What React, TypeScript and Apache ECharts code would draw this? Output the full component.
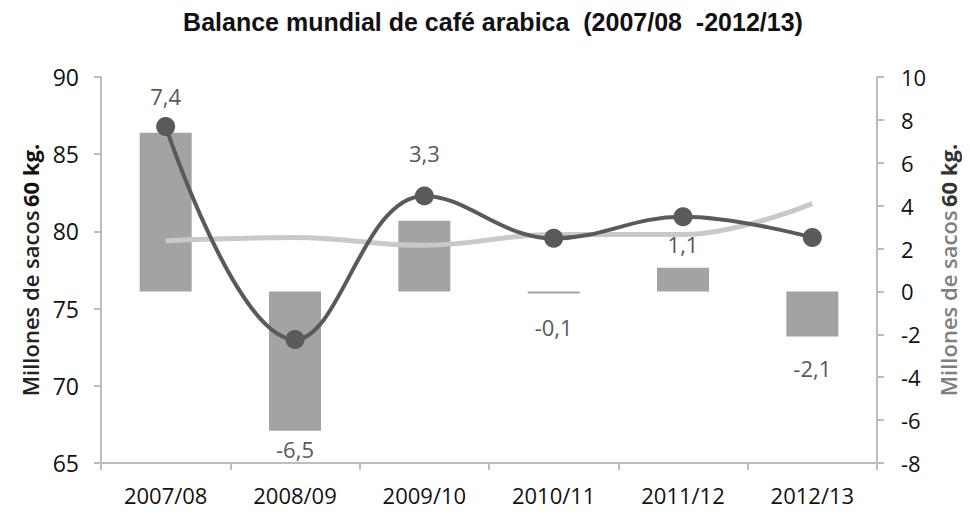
import React, { useEffect, useRef } from "react";
import * as echarts from "echarts";

const categories = ["2007/08", "2008/09", "2009/10", "2010/11", "2011/12", "2012/13"];
const balance = [7.4, -6.5, 3.3, -0.1, 1.1, -2.1];
const darkLine = [86.8, 73.0, 82.3, 79.55, 80.95, 79.6];
const lightLine = [79.4, 79.6, 79.1, 79.8, 79.8, 81.8];
const leftTicks = { min: 65, max: 90, interval: 5 };
const rightTicks = { min: -8, max: 10, interval: 2 };

// label distances (layout only)
const labelDistance = [26, 7, 57, 22, 13, 21];

const FONT = "'Open Sans', 'Noto Sans', sans-serif";

export default function App() {
  const ref = useRef<HTMLDivElement>(null);
  useEffect(() => {
    if (!ref.current) return;
    const chart = echarts.init(ref.current, null, { renderer: "svg" });
    const axisLine = { show: true, onZero: false, lineStyle: { color: "#bdbdbd", width: 2 } };
    const axisTick = { show: true, inside: false, length: 7, lineStyle: { color: "#bdbdbd", width: 2 } };
    chart.setOption({
      animation: false,
      title: {
        text: "Balance mundial de café arabica  (2007/08  -2012/13)",
        left: "center",
        top: 1,
        padding: 0,
        textStyle: { fontFamily: "'Liberation Sans', Arial, sans-serif", fontWeight: "bold", fontSize: 25, color: "#111" },
      },
      grid: { left: 93, right: 101, top: 69, bottom: 60 },
      xAxis: {
        type: "category",
        data: categories,
        boundaryGap: true,
        axisLine,
        axisTick: { ...axisTick, alignWithLabel: false },
        axisLabel: { color: "#111", fontSize: 22, fontFamily: FONT, margin: 21 },
        splitLine: { show: false },
      },
      yAxis: [
        {
          type: "value",
          min: leftTicks.min,
          max: leftTicks.max,
          interval: leftTicks.interval,
          position: "left",
          axisLine,
          axisTick,
          splitLine: { show: false },
          axisLabel: { color: "#111", fontSize: 23, fontFamily: FONT, margin: 22 },
          name: "{a|Millones de sacos} {b|60 kg.}",
          nameLocation: "middle",
          nameGap: 60,
          nameRotate: 90,
          nameTextStyle: {
            rich: {
              a: { fontSize: 22, fontFamily: FONT, color: "#222", fontWeight: 600 },
              b: { fontSize: 22, fontFamily: FONT, color: "#111", fontWeight: "bold" },
            },
          },
        },
        {
          type: "value",
          min: rightTicks.min,
          max: rightTicks.max,
          interval: rightTicks.interval,
          position: "right",
          axisLine,
          axisTick,
          splitLine: { show: false },
          axisLabel: { color: "#111", fontSize: 22, fontFamily: FONT, margin: 24 },
          name: "{a|Millones de sacos} {b|60 kg.}",
          nameLocation: "middle",
          nameGap: 53,
          nameRotate: 90,
          nameTextStyle: {
            rich: {
              a: { fontSize: 22, fontFamily: FONT, color: "#7f7f7f", fontWeight: 600 },
              b: { fontSize: 22, fontFamily: FONT, color: "#333", fontWeight: "bold" },
            },
          },
        },
      ],
      series: [
        {
          type: "bar",
          yAxisIndex: 1,
          barWidth: 52,
          itemStyle: { color: "#a3a3a3" },
          data: balance.map((v, i) => ({
            value: v,
            label: {
              show: true,
              position: v >= 0 ? "top" : "bottom",
              distance: labelDistance[i],
              formatter: () => String(v).replace(".", ","),
              color: "#595959",
              fontSize: 22,
              fontFamily: FONT,
            },
          })),
        },
        {
          type: "line",
          yAxisIndex: 0,
          data: lightLine,
          smooth: 0.4,
          showSymbol: false,
          symbol: "none",
          lineStyle: { color: "#c9c9c9", width: 5 },
          z: 3,
        },
        {
          type: "line",
          yAxisIndex: 0,
          data: darkLine,
          smooth: 0.4,
          symbol: "circle",
          symbolSize: 19,
          itemStyle: { color: "#5a5a5a" },
          lineStyle: { color: "#5a5a5a", width: 4 },
          z: 4,
        },
      ],
    });
    return () => chart.dispose();
  }, []);
  return <div ref={ref} style={{ width: 970, height: 515 }} />;
}
